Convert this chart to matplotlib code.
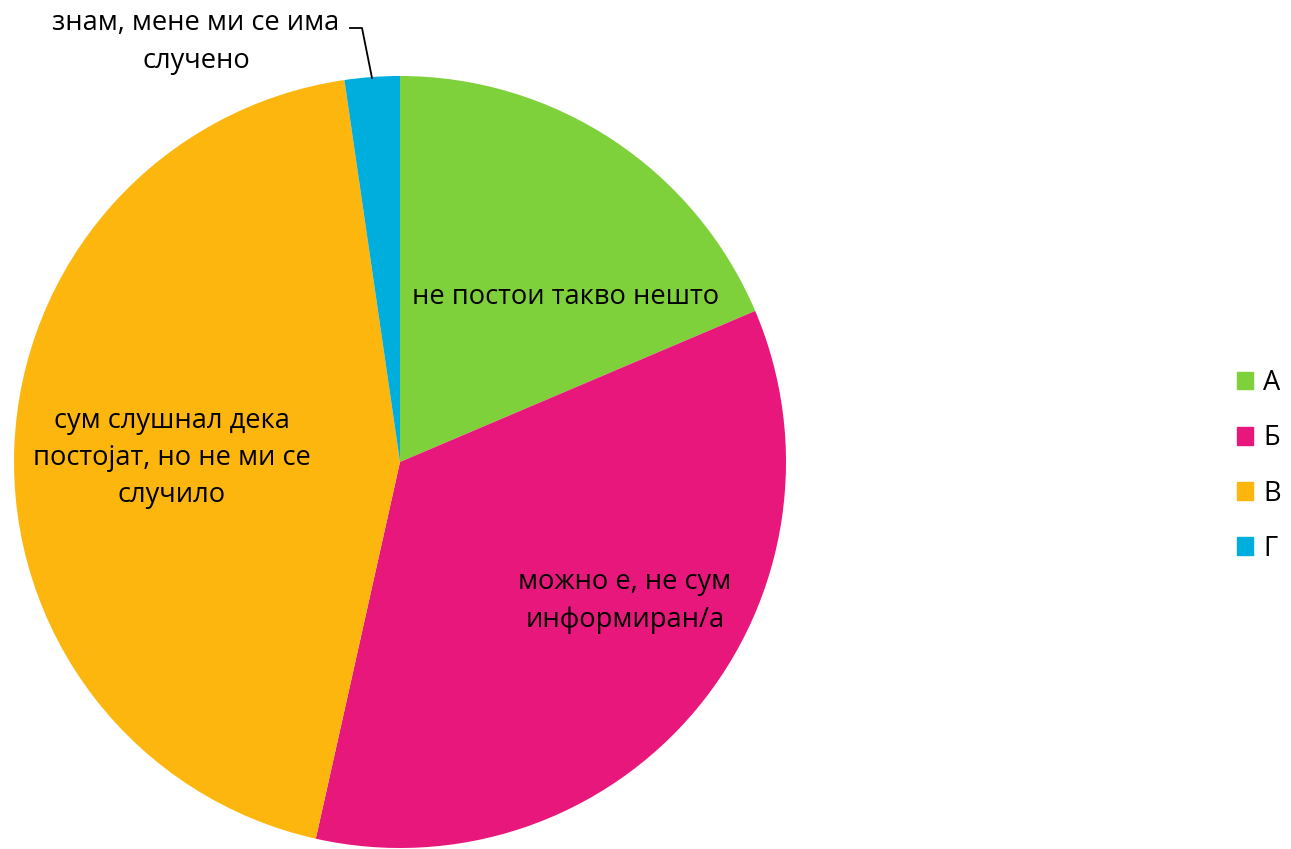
import matplotlib
matplotlib.use("Agg")
import matplotlib.pyplot as plt

categories = ["А", "Б", "В", "Г"]
values = [18.6, 34.9, 44.2, 2.3]
slice_labels = ["не постои такво нешто", "можно е, не сум\nинформиран/а",
                "сум слушнал дека\nпостојат, но не ми се\nслучило", "знам, мене ми се има\nслучено"]
colors = ["#7FD13B", "#E8177B", "#FDB60D", "#00AEDD"]

plt.rcParams['font.family'] = ['Open Sans', 'DejaVu Sans']

W, H = 1291, 849
fig = plt.figure(figsize=(W / 100, H / 100), dpi=100)
cx, cy, R = 400, 462, 386
ax = fig.add_axes([(cx - R) / W, (H - cy - R) / H, 2 * R / W, 2 * R / H])
wedges, _ = ax.pie(values, colors=colors, startangle=90, counterclock=False,
                   radius=1.0, wedgeprops=dict(linewidth=0))
ax.set_xlim(-1, 1)
ax.set_ylim(-1, 1)
ax.set_aspect('equal')
ax.axis('off')

def px(x, y):
    return ((x - cx) / R, (cy - y) / R)

fs = 19.6
label_pos = [(566, 297), (625, 601), (172, 458), (196, 42)]
for i, (lab, pos) in enumerate(zip(slice_labels, label_pos)):
    x, y = px(*pos)
    ax.text(x, y, lab, ha='center', va='center', fontsize=fs, color='black',
            linespacing=1.45, clip_on=False)

# leader line for Г
lx = [px(350, 28), px(362, 28), px(372, 78)]
ax.plot([p[0] for p in lx], [p[1] for p in lx], color='black', lw=1.3, clip_on=False)

handles = [plt.Rectangle((0, 0), 1, 1, color=c) for c in colors]
leg = fig.legend(handles, categories, loc='center left', bbox_to_anchor=(1212 / W, 1 - 466 / H),
                 frameon=False, fontsize=fs, handlelength=0.62, handleheight=0.62,
                 handletextpad=0.35, labelspacing=1.0)

fig.savefig("out.png", dpi=100)
